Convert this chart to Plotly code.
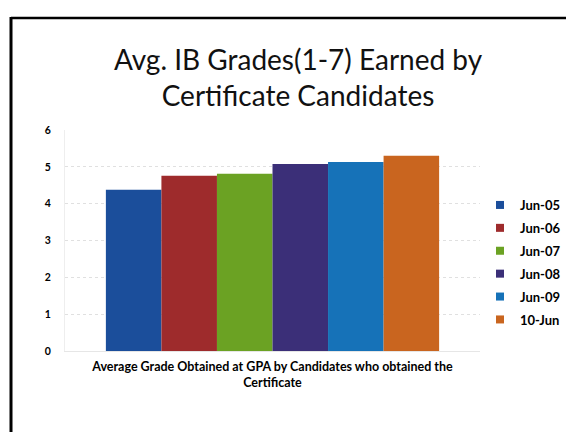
import plotly.graph_objects as go

series_names = ["Jun-05", "Jun-06", "Jun-07", "Jun-08", "Jun-09", "10-Jun"]
values = [4.38, 4.76, 4.81, 5.08, 5.13, 5.30]
colors = ["#1B4E9B", "#9E2B2C", "#6BA223", "#3B2F78", "#1672B8", "#C9651F"]
category = ["Average Grade Obtained at GPA by Candidates who obtained the<br>Certificate"]
y_ticks = [0, 1, 2, 3, 4, 5, 6]

W, H = 574, 432
L, R, T, B = 57, 102, 122, 89
pw, ph = W - L - R, H - T - B

def px(x):
    return (x - L) / pw

def py(y):
    return (H - B - y) / ph

fig = go.Figure()
for name, v, c in zip(series_names, values, colors):
    fig.add_trace(go.Bar(x=category, y=[v], name=name, showlegend=False,
                         marker=dict(color=c, line=dict(width=0))))
for name, c in zip(series_names, colors):
    fig.add_trace(go.Scatter(x=category, y=[None], name=name, mode="markers",
                             legendgroup=name,
                             marker=dict(symbol="square", size=8, color=c)))

fig.update_layout(
    width=W, height=H,
    margin=dict(l=L, r=R, t=T, b=B),
    paper_bgcolor="white", plot_bgcolor="white",
    barmode="group", bargap=0.197, bargroupgap=0,
    font=dict(family="Lato, Open Sans, sans-serif", color="black"),
    title=dict(text="Avg. IB Grades(1-7) Earned by<br>Certificate Candidates",
               x=(290) / W, xanchor="center", y=1 - 62 / H, yanchor="middle",
               font=dict(size=28, color="#111111")),
    xaxis=dict(showgrid=False, showline=True, linecolor="#E6E6E6", ticks="",
               ticklabelstandoff=4,
               tickfont=dict(size=12.5, family="Lato, sans-serif", weight="bold")),
    yaxis=dict(range=[0, 6], tickvals=y_ticks, showgrid=True, gridcolor="#E0E0E0",
               griddash="dot", zeroline=False, showline=True, linecolor="#EEEEEE",
               ticks="", ticklabelstandoff=11,
               tickfont=dict(size=10.5, weight="bold")),
    legend=dict(x=px(472), y=py(182), xanchor="left", yanchor="top",
                font=dict(size=13, weight="bold"), itemwidth=30,
                tracegroupgap=3, bgcolor="rgba(0,0,0,0)"),
    showlegend=True,
)

fig.add_shape(type="line", xref="paper", yref="paper",
              x0=px(3), x1=px(3), y0=py(9), y1=py(432), line=dict(color="black", width=3))
fig.add_shape(type="line", xref="paper", yref="paper",
              x0=px(3), x1=px(574), y0=py(10), y1=py(10), line=dict(color="black", width=2.5))
fig.add_shape(type="line", xref="paper", yref="paper",
              x0=px(573), x1=px(573), y0=py(295), y1=py(432), line=dict(color="#999999", width=1))

fig.write_html("out.html")
